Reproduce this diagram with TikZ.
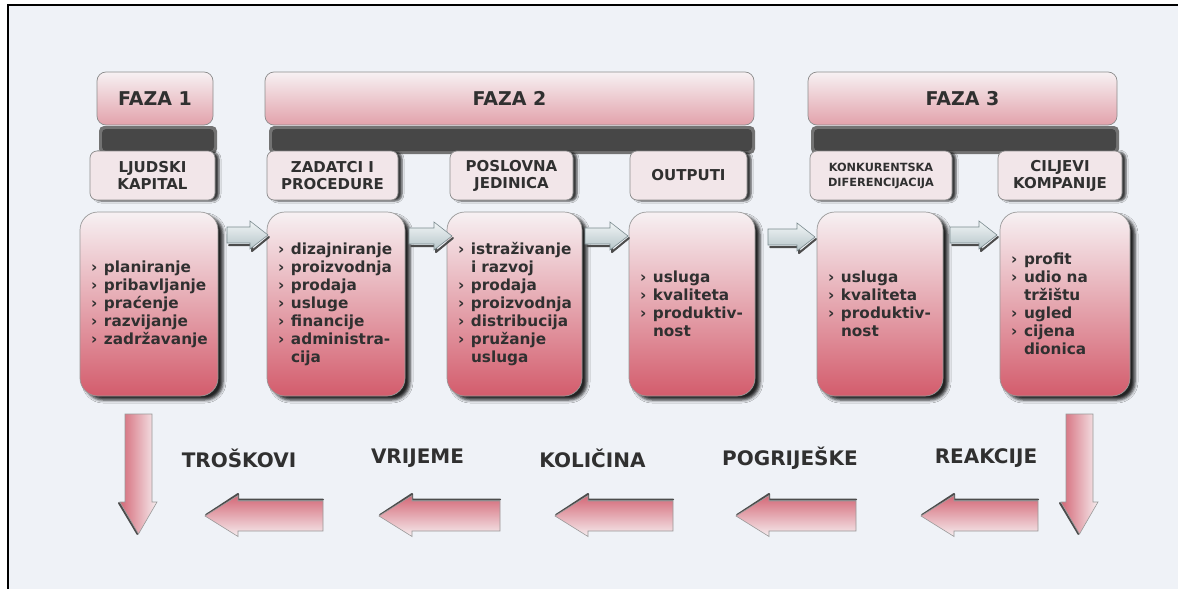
\documentclass[tikz,border=0pt]{standalone}
\usepackage{fontspec}
\setmainfont{DejaVu Sans}
\usetikzlibrary{shadows.blur}
\hyphenpenalty=10000
\exhyphenpenalty=10000
\definecolor{bg}{HTML}{EFF2F7}
\definecolor{txt}{HTML}{303030}
\definecolor{pinkL}{HTML}{F7F1F3}
\definecolor{pinkM}{HTML}{EDCBD1}
\definecolor{pinkD}{HTML}{D35C6C}
\definecolor{hdrB}{HTML}{E2A2AB}
\definecolor{subF}{HTML}{F2E6E9}
\definecolor{edge}{HTML}{8C8C8C}
\definecolor{arrL}{HTML}{F1F5F6}
\definecolor{arrD}{HTML}{B6C5C9}
\definecolor{arrE}{HTML}{7A8A8E}
\definecolor{redA}{HTML}{D46877}
\definecolor{redL}{HTML}{F6EDEF}
\newcommand\mybul{\makebox[13pt][l]{›}}
\newcommand\myind{\hspace*{13pt}}
\begin{document}
\begin{tikzpicture}[x=1pt,y=-1pt,
  phasebox/.style={draw=edge, line width=0.7pt, rounded corners=9pt, top color=pinkL, bottom color=hdrB,
    minimum height=53pt, inner sep=0pt, text=txt, font=\bfseries\fontsize{19}{22}\selectfont},
  subbox/.style={draw=edge, line width=0.7pt, rounded corners=7pt, fill=subF, minimum height=49pt,
    inner sep=0pt, align=center, text=txt, font=\bfseries\fontsize{15}{17}\selectfont,
    blur shadow={shadow xshift=4pt, shadow yshift=-1pt, shadow blur radius=2pt, shadow opacity=75}},
  bigbox/.style={draw=gray!80, line width=0.7pt, rounded corners=18pt, top color=pinkL, middle color=pinkM,
    bottom color=pinkD, minimum height=184pt, inner xsep=11pt, inner ysep=0pt, align=left, text=txt,
    font=\bfseries\fontsize{15.3}{18}\selectfont,
    blur shadow={shadow xshift=5pt, shadow yshift=-4pt, shadow blur radius=3pt, shadow opacity=85}},
  lbl/.style={text=txt, inner sep=0pt, font=\bfseries\fontsize{20}{24}\selectfont},
  darkbar/.style={fill=black!55, rounded corners=5pt},
  darkcore/.style={fill=black!72, rounded corners=4pt},
  smallarrow/.style={top color=arrL, bottom color=arrD, draw=arrE, line width=0.6pt},
  leftarrow/.style={top color=redA, bottom color=redL, draw=gray!80, line width=0.6pt},
  downarrow/.style={left color=redA, right color=redL, draw=gray!80, line width=0.6pt},
  arrshadow/.style={draw=black!70, line width=2pt, line cap=round, line join=round}
]
\useasboundingbox (0,0) rectangle (1178,589);
\fill[white] (0,0) rectangle (1178,589);
\fill[bg] (8,5) rectangle (1178,589);
\draw[line width=2.4pt, black] (1178,5) -- (8,5) -- (8,589);

% phase headers
\node[phasebox, minimum width=116pt] (f1) at (155,98.5) {FAZA 1};
\node[phasebox, minimum width=489pt] (f2) at (509.5,98.5) {FAZA 2};
\node[phasebox, minimum width=309pt] (f3) at (962.5,98.5) {FAZA 3};

% dark bars
\fill[darkbar] (99,126) rectangle (217,154);
\fill[darkcore] (102,129) rectangle (214,151);
\fill[darkbar] (269,126) rectangle (755,154);
\fill[darkcore] (272,129) rectangle (752,151);
\fill[darkbar] (811,126) rectangle (1119,154);
\fill[darkcore] (814,129) rectangle (1116,151);

% sub headers
\node[subbox, minimum width=125pt] (s1) at (152.5,175.5) {LJUDSKI\\KAPITAL};
\node[subbox, minimum width=131pt] (s2) at (332.5,175.5) {ZADATCI I\\PROCEDURE};
\node[subbox, minimum width=123pt] (s3) at (511.5,175.5) {POSLOVNA\\JEDINICA};
\node[subbox, minimum width=117pt] (s4) at (688.5,175.5) {OUTPUTI};
\node[subbox, minimum width=142pt, font=\bfseries\fontsize{11.3}{15}\selectfont] (s5) at (881,175.5) {KONKURENTSKA\\DIFERENCIJACIJA};
\node[subbox, minimum width=124pt] (s6) at (1060,175.5) {CILJEVI\\KOMPANIJE};

% big boxes
\node[bigbox, minimum width=138pt, text width=116pt] (b1) at (149,304)
  {\mybul planiranje\\\mybul pribavljanje\\\mybul praćenje\\\mybul razvijanje\\\mybul zadržavanje};
\node[bigbox, minimum width=138pt, text width=116pt] (b2) at (336,304)
  {\mybul dizajniranje\\\mybul proizvodnja\\\mybul prodaja\\\mybul usluge\\\mybul financije\\\mybul administra-\\\myind cija};
\node[bigbox, minimum width=135pt, text width=113pt] (b3) at (514.5,304)
  {\mybul istraživanje\\\myind i razvoj\\\mybul prodaja\\\mybul proizvodnja\\\mybul distribucija\\\mybul pružanje\\\myind usluga};
\node[bigbox, minimum width=126pt, text width=104pt] (b4) at (692,304)
  {\mybul usluga\\\mybul kvaliteta\\\mybul produktiv-\\\myind nost};
\node[bigbox, minimum width=126pt, text width=104pt] (b5) at (880,304)
  {\mybul usluga\\\mybul kvaliteta\\\mybul produktiv-\\\myind nost};
\node[bigbox, minimum width=130pt, text width=108pt] (b6) at (1065,304)
  {\mybul profit\\\mybul udio na\\\myind tržištu\\\mybul ugled\\\mybul cijena\\\myind dionica};

% small arrows between big boxes
\foreach \a/\b/\m in {227/268/235, 409/452/236, 585/628/236, 768/815/237, 950/997/235}{
  \draw[arrshadow] (\a+2,\m+10) -- (\b-16,\m+10) -- (\b-16,\m+16) -- (\b+1,\m+2);
  \shadedraw[smallarrow] (\a,\m-8) -- (\b-18,\m-8) -- (\b-18,\m-14) -- (\b,\m) -- (\b-18,\m+14)
     -- (\b-18,\m+8) -- (\a,\m+8) -- cycle;
}

% bottom labels
\node[lbl] (l1) at (239,458) {TROŠKOVI};
\node[lbl] (l2) at (417.5,458) {VRIJEME};
\node[lbl] (l3) at (592.5,458) {KOLIČINA};
\node[lbl] (l4) at (790,458) {POGRIJEŠKE};
\node[lbl] (l5) at (986,458) {REAKCIJE};

% left arrows
\foreach \t/\e in {205/323, 379/500, 555/673, 736/856, 921/1038}{
  \draw[arrshadow] (\e,499.5) -- (\t+33,499.5) -- (\t+33,494) -- (\t+1,515);
  \shadedraw[leftarrow] (\e,501) -- (\t+33,501) -- (\t+33,495.5) -- (\t,516) -- (\t+33,536.5)
     -- (\t+33,531) -- (\e,531) -- cycle;
}

% down arrows
\foreach \l in {125, 1066}{
  \draw[arrshadow] (\l-6,503) -- (\l+12.5,534);
  \shadedraw[downarrow] (\l,414) -- (\l+27,414) -- (\l+27,502) -- (\l+32,502) -- (\l+13.5,534)
     -- (\l-5,502) -- (\l,502) -- cycle;
}
\end{tikzpicture}
\end{document}
